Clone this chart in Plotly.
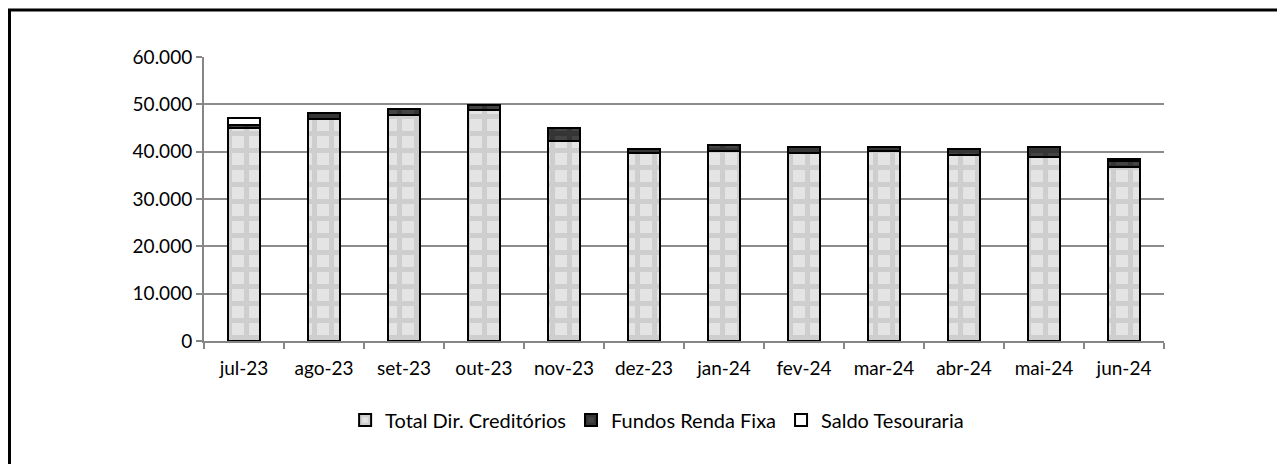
import plotly.graph_objects as go

months = ["jul-23", "ago-23", "set-23", "out-23", "nov-23", "dez-23",
          "jan-24", "fev-24", "mar-24", "abr-24", "mai-24", "jun-24"]
total_dir_creditorios = [45100, 46900, 47750, 48900, 42300, 39650,
                         40150, 39800, 40150, 39300, 38950, 36850]
fundos_renda_fixa = [500, 1200, 1200, 900, 2700, 850,
                     1200, 1100, 750, 1200, 1950, 1200]
saldo_tesouraria = [1500, 0, 0, 0, 0, 0, 0, 0, 0, 0, 0, 350]
y_ticks = [0, 10000, 20000, 30000, 40000, 50000, 60000]
y_tick_labels = ["0", "10.000", "20.000", "30.000", "40.000", "50.000", "60.000"]

FONT = "Lato"
FS = 19

fig = go.Figure()
fig.add_trace(go.Bar(
    x=months, y=total_dir_creditorios, name="Total Dir. Creditórios",
    marker=dict(color="#d8d8d8", line=dict(color="black", width=2),
                pattern=dict(shape="+", fgcolor="#b8b8b8", bgcolor="#e4e4e4",
                             size=17, solidity=0.5)),
))
fig.add_trace(go.Bar(
    x=months, y=fundos_renda_fixa, name="Fundos Renda Fixa",
    marker=dict(color="#3a3a3a", line=dict(color="black", width=2),
                pattern=dict(shape="+", fgcolor="#262626", bgcolor="#444444",
                             size=17, solidity=0.5)),
))
fig.add_trace(go.Bar(
    x=months, y=saldo_tesouraria, name="Saldo Tesouraria",
    marker=dict(color="white", line=dict(color="black", width=2)),
))

fig.update_layout(
    barmode="stack",
    bargap=0.6,
    width=1277, height=456,
    margin=dict(l=196, r=121, t=49, b=123),
    paper_bgcolor="white", plot_bgcolor="white",
    font=dict(family=FONT, size=FS, color="black"),
    showlegend=True,
    legend=dict(orientation="h", x=0.472, xanchor="center", y=-0.278, yanchor="middle",
                font=dict(family=FONT, size=20), traceorder="normal",
                itemwidth=30),
    xaxis=dict(showline=True, linecolor="#868686", linewidth=2,
               ticks="outside", tickson="boundaries", ticklen=6, tickwidth=2,
               tickcolor="#868686", showgrid=False, ticklabelstandoff=9,
               tickfont=dict(family=FONT, size=FS)),
    yaxis=dict(range=[0, 60000], tickvals=y_ticks, ticktext=y_tick_labels,
               showline=True, linecolor="#868686", linewidth=2,
               ticks="outside", ticklen=6, tickwidth=2, tickcolor="#868686",
               showgrid=True, gridcolor="#8c8c8c", gridwidth=2,
               zeroline=False, tickfont=dict(family=FONT, size=FS)),
    shapes=[
        dict(type="line", xref="paper", yref="paper",
             x0=-0.2026, x1=-0.2026, y0=-0.6, y1=1.1655,
             line=dict(color="black", width=3), layer="below"),
        dict(type="line", xref="paper", yref="paper",
             x0=-0.2042, x1=1.3, y0=1.1655, y1=1.1655,
             line=dict(color="black", width=3), layer="below"),
    ],
)

fig.write_html("out.html")
